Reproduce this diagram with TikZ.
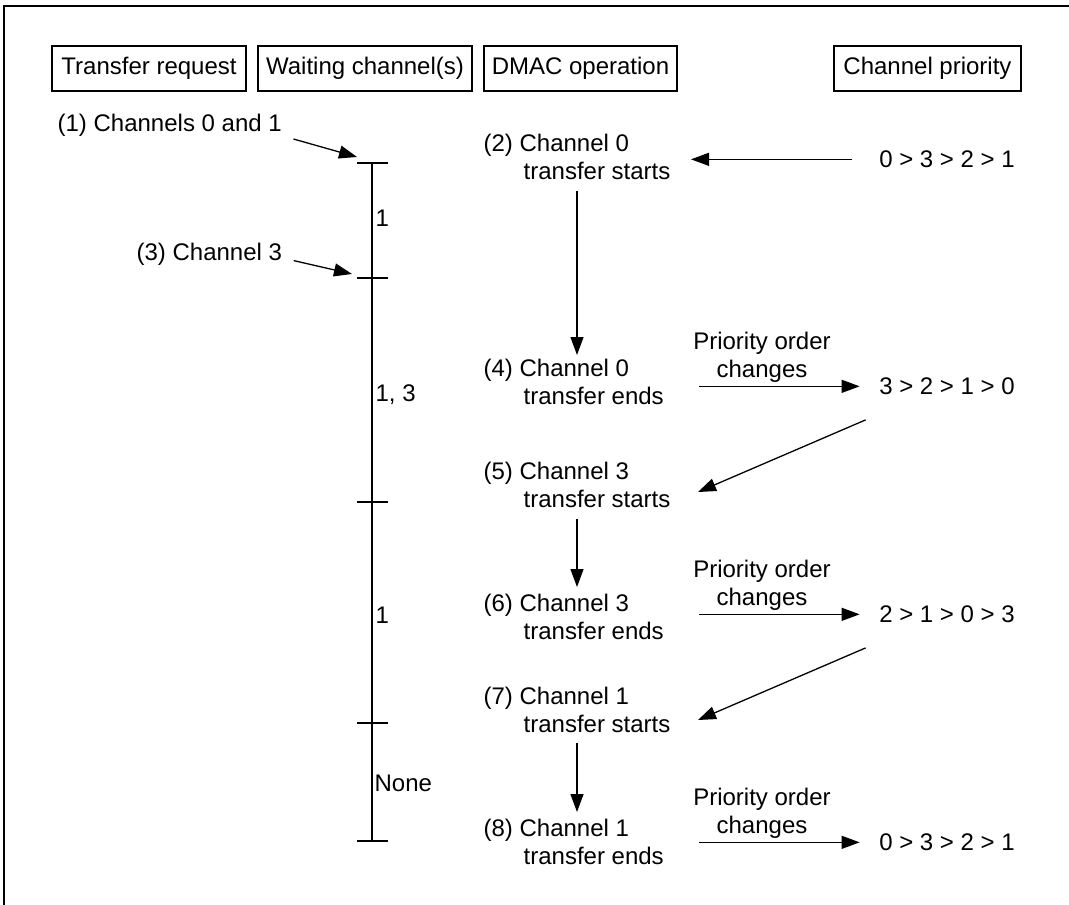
\documentclass[tikz,border=0pt]{standalone}
\usepackage{fontspec}
\setmainfont{Liberation Sans}
\usetikzlibrary{arrows.meta,calc}
\begin{document}
\begin{tikzpicture}[x=1pt,y=-1pt,
  font=\fontsize{24}{27.5}\selectfont,
  line width=1.3pt,
  arr/.style={-{Triangle[length=18pt,width=13pt]}},
  hdr/.style={draw, minimum height=45pt, inner sep=0pt, line width=1.3pt},
  txt/.style={inner sep=0pt, anchor=base west},
  dmac/.style={inner sep=0pt, anchor=base west, align=left},
  prio/.style={inner sep=0pt, anchor=base},
  chg/.style={inner sep=0pt, anchor=base, align=center},
]
\useasboundingbox (0,0) rectangle (1069,905);
\draw[line width=2pt] (4,905) -- (4,6) -- (1069,6);

% header boxes
\node[hdr, minimum width=194pt] (h1) at (149,68.5) {Transfer request};
\node[hdr, minimum width=214pt] (h2) at (365,68.5) {Waiting channel(s)};
\node[hdr, minimum width=193pt] (h3) at (580.5,68.5) {DMAC operation};
\node[hdr, minimum width=187pt] (h4) at (927.5,68.5) {Channel priority};

% timeline
\coordinate (t1) at (372,163);
\coordinate (t2) at (372,278);
\coordinate (t3) at (372,502);
\coordinate (t4) at (372,723);
\coordinate (t5) at (372,841);
\draw (t1) -- (t5);
\foreach \t in {t1,t2,t3,t4,t5}
  \draw ($(\t)+(-15,0)$) -- ($(\t)+(16,0)$);

% waiting channels
\node[txt] (w1) at (375,226.6) {1};
\node[txt] (w2) at (375,401.6) {1, 3};
\node[txt] (w3) at (375,623.6) {1};
\node[txt] (w4) at (374,791.6) {None};

% transfer requests
\node[txt] (r1) at (57,131) {(1) Channels 0 and 1};
\node[txt] (r3) at (136,260.6) {(3) Channel 3};
\draw[arr] ($(r1.base east)+(11,8)$) -- ($(t1)+(-15,-6)$);
\draw[arr] ($(r3.base east)+(11,0)$) -- ($(t2)+(-20,-4)$);

% DMAC operation (base anchor = baseline of the second line)
\node[dmac] (n2) at (483,179.1) {(2) Channel 0\\\hspace*{40pt}transfer starts};
\node[dmac] (n4) at (483,404.1) {(4) Channel 0\\\hspace*{40pt}transfer ends};
\node[dmac] (n5) at (483,507.1) {(5) Channel 3\\\hspace*{40pt}transfer starts};
\node[dmac] (n6) at (483,639.1) {(6) Channel 3\\\hspace*{40pt}transfer ends};
\node[dmac] (n7) at (483,732.1) {(7) Channel 1\\\hspace*{40pt}transfer starts};
\node[dmac] (n8) at (483,864.1) {(8) Channel 1\\\hspace*{40pt}transfer ends};

\draw[arr] ($(n2.base west)+(94,11.9)$) -- ($(n4.base west)+(94,-49.1)$);
\draw[arr] ($(n5.base west)+(94,11.9)$) -- ($(n6.base west)+(94,-52.1)$);
\draw[arr] ($(n7.base west)+(94,10.9)$) -- ($(n8.base west)+(94,-52.1)$);

% channel priority
\node[prio] (p0) at (947,167.6) {0 > 3 > 2 > 1};
\node[prio] (p1) at (947,394.6) {3 > 2 > 1 > 0};
\node[prio] (p2) at (947,622.6) {2 > 1 > 0 > 3};
\node[prio] (p3) at (947,850.6) {0 > 3 > 2 > 1};

\node[chg] (c1) at (762,377.1) {Priority order\\changes};
\node[chg] (c2) at (762,605.1) {Priority order\\changes};
\node[chg] (c3) at (762,833.1) {Priority order\\changes};

\draw[arr] ($(p0.west)+(-27,0)$) -- ($(n2.east |- p0.west)+(20,0)$);
\draw[arr] ($(n4.east |- p1.west)+(35,0)$) -- ($(p1.west)+(-19,0)$);
\draw[arr] ($(n6.east |- p2.west)+(35,0)$) -- ($(p2.west)+(-19,0)$);
\draw[arr] ($(n8.east |- p3.west)+(35,0)$) -- ($(p3.west)+(-19,0)$);

\draw[arr] ($(p1.south west)+(-13,24.4)$) -- ($(n5.base west)+(215,-15.1)$);
\draw[arr] ($(p2.south west)+(-13,24.4)$) -- ($(n7.base west)+(215,-12.1)$);
\end{tikzpicture}
\end{document}
